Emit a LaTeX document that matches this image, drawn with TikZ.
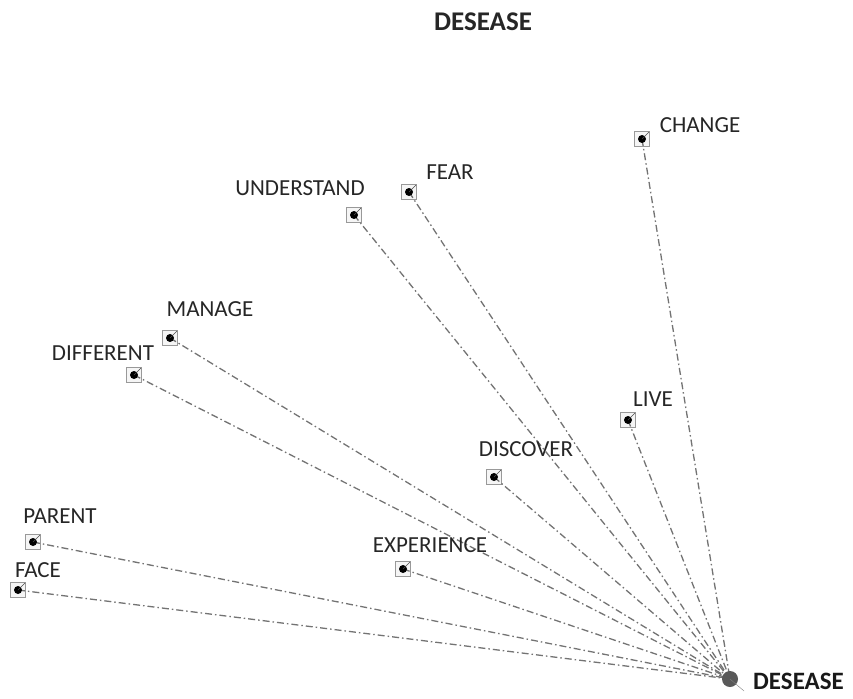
\documentclass[tikz,border=0pt]{standalone}
\usepackage{fontspec}
\setmainfont{Carlito}
\begin{document}
\begin{tikzpicture}[x=1pt,y=-1pt,
    word/.style={font=\fontsize{23}{25}\selectfont, text=black!85, inner sep=0pt},
    mark box/.style={draw=black!40, fill=black!4, minimum size=15pt, inner sep=0pt},
    link/.style={draw=black!55, dash pattern=on 7pt off 3pt on 1.5pt off 3pt, line width=1.3pt}]
\useasboundingbox (0,0) rectangle (853,698);
\node[font=\bfseries\fontsize{27}{29}\selectfont, text=black!85] (title) at (483,22) {DESEASE};

% hub
\coordinate (hub) at (730,679);
\node[font=\bfseries\fontsize{25}{27}\selectfont, text=black!90, anchor=west, inner sep=0pt] (hublabel) at (753,681) {DESEASE};

% word boxes
\foreach \name/\bx/\by in {change/642/139, fear/409/192, understand/354/215,
    manage/170/338, different/134/375, live/628/420, discover/494/477,
    parent/33/542, experience/403/569, face/18/590}{
  \node[mark box] (\name) at (\bx,\by) {};
  \draw[link] (\name.center) -- (hub);
  \fill (\name.center) circle (4pt);
  \draw[black!70] (\name.center) -- ++(7,-7);
}
\node[word] (changetext) at (700,125) {CHANGE};
\node[word] (feartext) at (450,172) {FEAR};
\node[word] (understandtext) at (300,188) {UNDERSTAND};
\node[word] (managetext) at (210,309) {MANAGE};
\node[word] (differenttext) at (103,353) {DIFFERENT};
\node[word] (livetext) at (653,399) {LIVE};
\node[word] (discovertext) at (526,449) {DISCOVER};
\node[word] (parenttext) at (60,516) {PARENT};
\node[word] (experiencetext) at (430,545) {EXPERIENCE};
\node[word] (facetext) at (38,570) {FACE};

\fill[black!65] (hub) circle (8pt);
\draw[black!50] (hub) -- ++(14,12);
\end{tikzpicture}
\end{document}
